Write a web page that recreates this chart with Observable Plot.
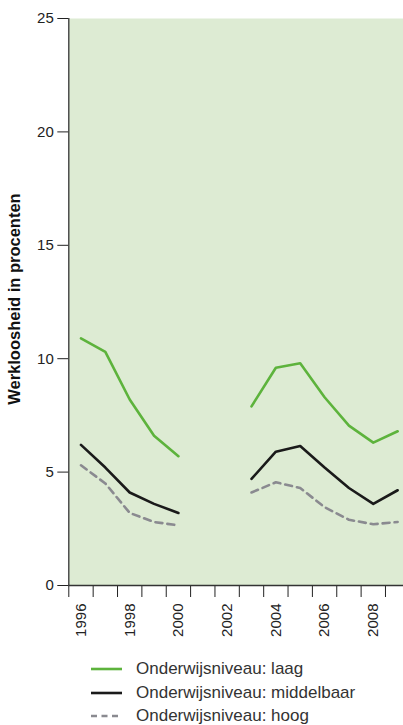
<!DOCTYPE html>
<html>
<head>
<meta charset="utf-8">
<script src="https://cdn.jsdelivr.net/npm/d3@7"></script>
<script src="https://cdn.jsdelivr.net/npm/@observablehq/plot@0.6"></script>
<style>
  html, body { margin: 0; padding: 0; background: #fff; }
  body { width: 403px; height: 725px; overflow: hidden; font-family: "Liberation Sans", Arial, sans-serif; }
  #legend { position: absolute; left: 0; top: 0; }
  .row { position: absolute; left: 0; height: 20px; display: flex; align-items: center; font-size: 17px; color: #333; white-space: nowrap; }
  .row svg { margin-left: 91px; margin-right: 14px; }
</style>
</head>
<body>
<div id="chart"></div>
<div id="legend"></div>
<script>
const years = [1996, 1997, 1998, 1999, 2000, 2001, 2002, 2003, 2004, 2005, 2006, 2007, 2008, 2009];
const laag =       [10.9, 10.3, 8.2, 6.6, 5.7, null, null, 7.9, 9.6, 9.8, 8.3, 7.05, 6.3, 6.8];
const middelbaar = [6.2, 5.2, 4.1, 3.6, 3.2, null, null, 4.7, 5.9, 6.15, 5.2, 4.3, 3.6, 4.2];
const hoog =       [5.3, 4.5, 3.2, 2.8, 2.65, null, null, 4.1, 4.55, 4.3, 3.45, 2.9, 2.7, 2.8];
const seriesNames = ["Onderwijsniveau: laag", "Onderwijsniveau: middelbaar", "Onderwijsniveau: hoog"];
const yTicks = [0, 5, 10, 15, 20, 25];
const xLabelYears = [1996, 1998, 2000, 2002, 2004, 2006, 2008];
const yTitle = "Werkloosheid in procenten";

const colors = ["#5db33c", "#1a1a1a", "#8a8a90"];
const dashes = [null, null, "7,5"];
const seriesValues = [laag, middelbaar, hoog];

const tickBounds = years.map(y => y - 0.5);

const H = 650;
const marks = [
  Plot.frame({fill: "#ddebd3", stroke: null}),
  Plot.axisY({ticks: yTicks, tickSize: 11, tickFormat: () => "", label: null, color: "#222"}),
  Plot.axisX({ticks: tickBounds, tickSize: 12, tickFormat: () => "", label: null, color: "#222"}),
  Plot.text(yTicks, {x: 1995.5, y: d => d, dx: -15, textAnchor: "end", fontSize: 15, fill: "#222"}),
  Plot.text(xLabelYears, {x: d => d, y: 0, dy: 18, rotate: -90, textAnchor: "end", fontSize: 15, fill: "#222", text: d => String(d)}),
  Plot.ruleX([1995.5], {stroke: "#333", strokeWidth: 1.3}),
  Plot.ruleY([0], {stroke: "#333", strokeWidth: 1.3}),
  Plot.text([yTitle], {x: 1995.5, y: 12.63, dx: -54, rotate: -90, fontSize: 16.5, fontWeight: "bold", fill: "#111"})
];
seriesValues.forEach((vals, i) => {
  const data = years.map((y, j) => ({year: y, value: vals[j]}));
  marks.push(Plot.line(data, {
    x: "year", y: "value",
    stroke: colors[i], strokeWidth: 2.6,
    strokeDasharray: dashes[i] || undefined,
    defined: d => d.value != null
  }));
});

const chart = Plot.plot({
  width: 403,
  height: H,
  marginLeft: 68.3,
  marginRight: 0,
  marginTop: 18,
  marginBottom: H - 585,
  style: {fontFamily: "'Liberation Sans', Arial, sans-serif", fontSize: "15px", background: "transparent", overflow: "visible"},
  x: {domain: [1995.5, 2009.24], axis: null},
  y: {domain: [0, 25], axis: null},
  marks
});
document.getElementById("chart").appendChild(chart);

const legend = document.getElementById("legend");
const rowY = [669, 693, 716];
seriesNames.forEach((name, i) => {
  const row = document.createElement("div");
  row.className = "row";
  row.style.top = (rowY[i] - 10) + "px";
  row.innerHTML = `<svg width="31" height="6"><line x1="0" x2="31" y1="3" y2="3" stroke="${colors[i]}" stroke-width="2.6" ${dashes[i] ? `stroke-dasharray="6,4.5"` : ""}/></svg><span>${name}</span>`;
  legend.appendChild(row);
});
</script>
</body>
</html>
